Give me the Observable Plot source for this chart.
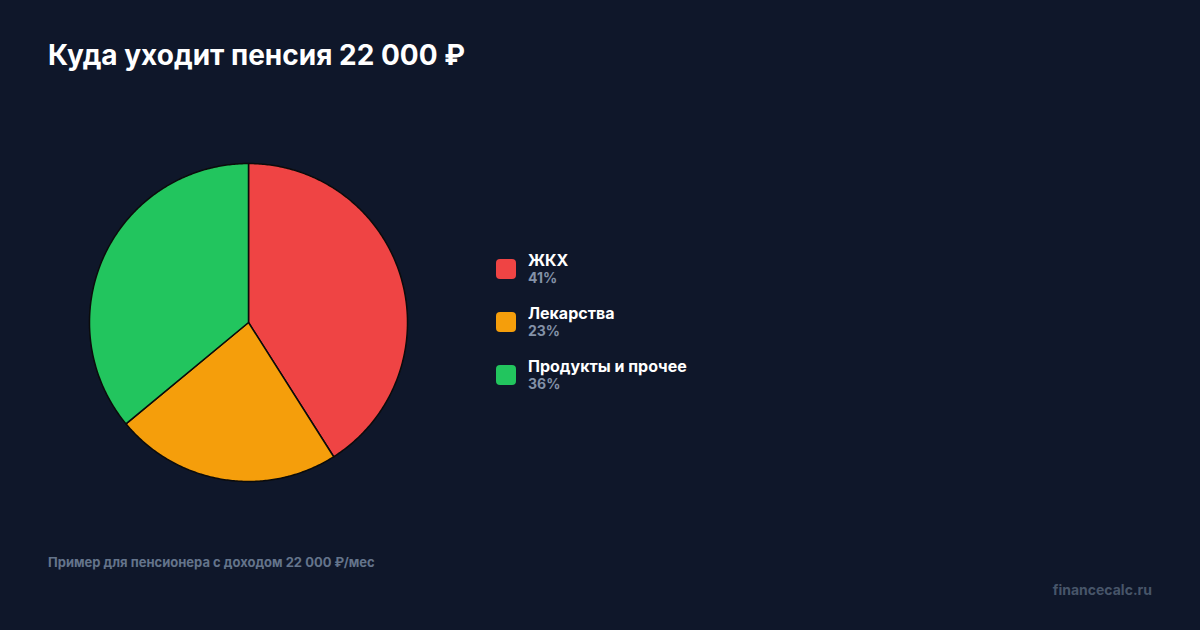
<!DOCTYPE html>
<html><head><meta charset="utf-8">
<script src="https://cdn.jsdelivr.net/npm/d3@7"></script>
<script src="https://cdn.jsdelivr.net/npm/@observablehq/plot@0.6"></script>
<style>
html,body{margin:0;padding:0;background:#0f172a;}
body{width:1200px;height:630px;position:relative;overflow:hidden;font-family:Inter,"Noto Sans",sans-serif;}
.t{position:absolute;line-height:1;white-space:nowrap;}
#title{left:48px;top:41px;font-size:28px;font-weight:700;color:#ffffff;}
#pie{position:absolute;left:87px;top:161px;}
.sw{position:absolute;width:20px;height:20px;border-radius:4px;left:496px;}
.lab{left:528px;font-size:16px;font-weight:700;color:#ffffff;}
.pct{left:528px;font-size:14px;font-weight:700;color:#8391a7;}
#note{left:48px;top:556px;font-size:13px;font-weight:700;color:#64748b;}
#brand{right:48px;top:583px;font-size:14px;font-weight:700;color:#475569;}
</style></head>
<body>
<div class="t" id="title">Куда уходит пенсия 22 000 ₽</div>
<div id="pie"></div>
<div id="legend"></div>
<div class="t" id="note">Пример для пенсионера с доходом 22 000 ₽/мес</div>
<div class="t" id="brand">financecalc.ru</div>
<script>
const categories = ["ЖКХ", "Лекарства", "Продукты и прочее"];
const shares = [41, 23, 36];
const colors = ["#ef4444", "#f59e0b", "#22c55e"];

// Build slice polygons (unit circle, clockwise from 12 o'clock) from the shares
const arcs = d3.pie().sort(null)(shares);
const features = arcs.map((a, i) => {
  const n = Math.max(2, Math.ceil((a.endAngle - a.startAngle) / 0.01));
  const ring = [[0, 0]];
  for (let k = 0; k <= n; k++) {
    const t = a.startAngle + (a.endAngle - a.startAngle) * k / n;
    ring.push([Math.sin(t), -Math.cos(t)]);
  }
  ring.push([0, 0]);
  return {type: "Feature", properties: {category: categories[i], share: shares[i]},
          geometry: {type: "Polygon", coordinates: [ring]}};
});
const domain = {type: "MultiPoint", coordinates: [[-1, -1], [1, 1]]};

const chart = Plot.plot({
  width: 322, height: 322,
  margin: 2,
  style: {background: "transparent", overflow: "visible"},
  projection: ({width, height}) => d3.geoIdentity().fitSize([width, height], domain),
  color: {domain: categories, range: colors},
  marks: [
    Plot.geo(features, {fill: d => d.properties.category, stroke: "#0b0b0b", strokeWidth: 1.5, strokeLinejoin: "round"})
  ]
});
document.getElementById("pie").appendChild(chart);

const legend = document.getElementById("legend");
categories.forEach((c, i) => {
  const y = 259 + i * 53;
  const sw = document.createElement("div");
  sw.className = "sw"; sw.style.top = y + "px"; sw.style.background = colors[i];
  legend.appendChild(sw);
  const lab = document.createElement("div");
  lab.className = "t lab"; lab.style.top = (y - 7) + "px"; lab.textContent = c;
  legend.appendChild(lab);
  const pct = document.createElement("div");
  pct.className = "t pct"; pct.style.top = (y + 12) + "px"; pct.textContent = shares[i] + "%";
  legend.appendChild(pct);
});
</script>
</body></html>
